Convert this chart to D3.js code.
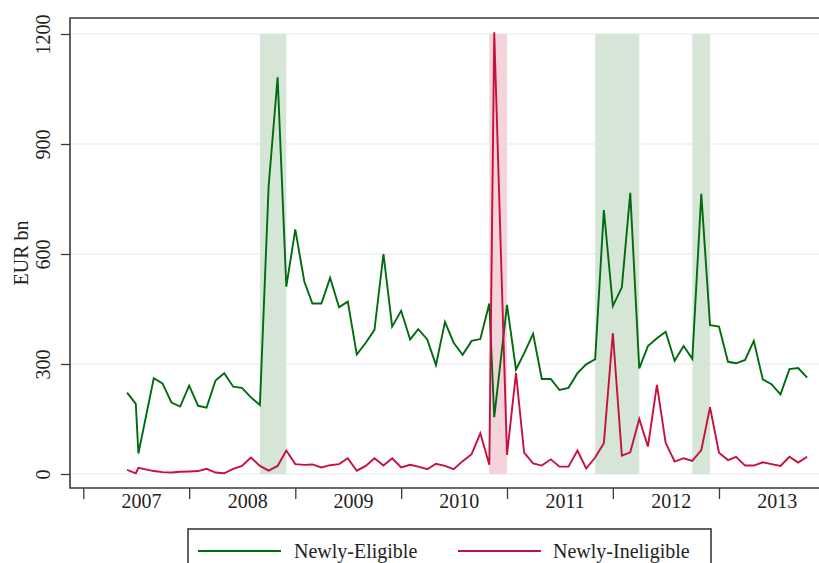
<!DOCTYPE html>
<html>
<head>
<meta charset="utf-8">
<script src="https://cdn.jsdelivr.net/npm/d3@7"></script>
<style>
  body { margin: 0; background: #fff; }
  svg { display: block; font-family: 'Liberation Serif', 'DejaVu Serif', serif; }
</style>
</head>
<body>
<svg id="chart" width="819" height="563"></svg>
<script>
// monthly observations (two extra mid-month readings)
const dates = [
  '2007-06-01', '2007-07-01', '2007-07-10', '2007-09-01', '2007-10-01', '2007-11-01', '2007-12-01',
  '2008-01-01', '2008-02-01', '2008-03-01', '2008-04-01', '2008-05-01', '2008-06-01',
  '2008-07-01', '2008-08-01', '2008-09-01', '2008-10-01', '2008-11-01', '2008-12-01',
  '2009-01-01', '2009-02-01', '2009-03-01', '2009-04-01', '2009-05-01', '2009-06-01',
  '2009-07-01', '2009-08-01', '2009-09-01', '2009-10-01', '2009-11-01', '2009-12-01',
  '2010-01-01', '2010-02-01', '2010-03-01', '2010-04-01', '2010-05-01', '2010-06-01',
  '2010-07-01', '2010-08-01', '2010-09-01', '2010-10-01', '2010-11-01', '2010-11-18',
  '2011-01-01', '2011-02-01', '2011-03-01', '2011-04-01', '2011-05-01', '2011-06-01',
  '2011-07-01', '2011-08-01', '2011-09-01', '2011-10-01', '2011-11-01', '2011-12-01',
  '2012-01-01', '2012-02-01', '2012-03-01', '2012-04-01', '2012-05-01', '2012-06-01',
  '2012-07-01', '2012-08-01', '2012-09-01', '2012-10-01', '2012-11-01', '2012-12-01',
  '2013-01-01', '2013-02-01', '2013-03-01', '2013-04-01', '2013-05-01', '2013-06-01',
  '2013-07-01', '2013-08-01', '2013-09-01', '2013-10-01', '2013-11-01'
]

const newlyEligible = [
  222, 191, 56, 261, 247, 195, 184,
  241, 186, 181, 255, 275, 238,
  235, 209, 188, 784, 1082, 511,
  667, 525, 465, 465, 535, 455,
  470, 326, 358, 393, 600, 402,
  445, 367, 395, 367, 297, 415,
  358, 325, 363, 368, 465, 155,
  461, 285, 329, 382, 259, 259,
  229, 235, 275, 299, 313, 720,
  458, 509, 767, 288, 349, 370,
  388, 309, 349, 314, 764, 406,
  402, 306, 302, 311, 363, 258,
  245, 217, 286, 289, 263
]

const newlyIneligible = [
  11, 2, 17, 8, 5, 4, 6,
  7, 8, 14, 4, 2, 14,
  22, 45, 22, 9, 22, 64,
  27, 25, 26, 18, 24, 27,
  43, 9, 22, 43, 23, 43,
  18, 25, 20, 13, 28, 22,
  13, 35, 54, 111, 25, 1205,
  52, 275, 58, 29, 23, 40,
  20, 20, 64, 15, 45, 84,
  384, 50, 59, 150, 75, 243,
  85, 34, 43, 36, 65, 182,
  58, 38, 47, 23, 23, 32,
  27, 22, 47, 31, 47
]

// shaded episodes: [start, end, kind]
const bands = [
  ['2008-09-01', '2008-12-01', 'elig'],
  ['2010-11-01', '2011-01-01', 'inelig'],
  ['2011-11-01', '2012-04-01', 'elig'],
  ['2012-10-01', '2012-12-01', 'elig']
]

const yTicks = [0, 300, 600, 900, 1200]
const years = [2007, 2008, 2009, 2010, 2011, 2012, 2013]

const parse = d3.timeParse('%Y-%m-%d')
const green = '#006b0f'
const red = '#c8103e'

const svg = d3.select('#chart')
const plotL = 70, plotT = 18, plotB = 488, plotR = 819

const x = d3.scaleTime()
  .domain([new Date(2007, 0, 1), new Date(2013, 0, 1)])
  .range([83.3, 719])

const y = d3.scaleLinear().domain([0, 1200]).range([474, 34])

// grid
svg.append('g')
  .selectAll('line')
  .data(yTicks)
  .join('line')
  .attr('x1', plotL)
  .attr('x2', plotR)
  .attr('y1', d => y(d))
  .attr('y2', d => y(d))
  .attr('stroke', '#eaf1f4')
  .attr('stroke-width', 1.6)

// shaded bands
svg.append('g')
  .selectAll('rect')
  .data(bands)
  .join('rect')
  .attr('x', d => x(parse(d[0])))
  .attr('width', d => x(parse(d[1])) - x(parse(d[0])))
  .attr('y', y(1200))
  .attr('height', y(0) - y(1200))
  .attr('fill', d => (d[2] === 'elig' ? '#d5e5d6' : '#f5d3da'))

// series
const series = [
  { name: 'Newly-Eligible', values: newlyEligible, color: green },
  { name: 'Newly-Ineligible', values: newlyIneligible, color: red }
]

const line = d3.line()
  .x(d => x(d.date))
  .y(d => y(d.value))

series.forEach(s => {
  const pts = dates.map((d, i) => ({ date: parse(d), value: s.values[i] }))
  svg.append('path')
    .datum(pts)
    .attr('d', line)
    .attr('fill', 'none')
    .attr('stroke', s.color)
    .attr('stroke-width', 1.9)
    .attr('stroke-linejoin', 'miter')
})

// frame
svg.append('path')
  .attr('d', `M${plotR},${plotT}H${plotL}V${plotB}H${plotR}`)
  .attr('fill', 'none')
  .attr('stroke', '#3a3a3a')
  .attr('stroke-width', 1.6)

// y axis
const yAxis = d3.axisLeft(y).tickValues(yTicks).tickSize(9).tickFormat(d3.format('d'))
const yg = svg.append('g')
  .attr('transform', `translate(${plotL},0)`)
  .call(yAxis)
yg.select('.domain').remove()
yg.selectAll('.tick line').attr('stroke', '#3a3a3a').attr('stroke-width', 1.3)
yg.selectAll('.tick text')
  .attr('transform', 'rotate(-90)')
  .attr('x', 0)
  .attr('y', -20)
  .attr('dy', 0)
  .attr('text-anchor', 'middle')
  .attr('fill', '#222')
  .style('font-size', '20px')
  .style('font-family', "'Liberation Serif', serif")

svg.append('text')
  .attr('transform', 'translate(28,253) rotate(-90)')
  .attr('text-anchor', 'middle')
  .attr('fill', '#222')
  .style('font-size', '20px')
  .text('EUR bn')

// x axis: ticks at year starts, labels mid-year
const xg = svg.append('g')
  .attr('transform', `translate(0,${plotB})`)
  .call(d3.axisBottom(x)
    .tickValues(years.map(yr => new Date(yr, 0, 1)))
    .tickSize(11)
    .tickFormat(''))
xg.select('.domain').remove()
xg.selectAll('.tick line').attr('stroke', '#3a3a3a').attr('stroke-width', 1.3)

const xl = svg.append('g')
  .attr('transform', `translate(0,${plotB})`)
  .call(d3.axisBottom(x)
    .tickValues(years.map(yr => new Date(yr, 6, 19)))
    .tickSize(0)
    .tickPadding(6)
    .tickFormat(d3.timeFormat('%Y')))
xl.select('.domain').remove()
xl.selectAll('.tick text')
  .attr('fill', '#222')
  .style('font-size', '20px')
  .style('font-family', "'Liberation Serif', serif")

// legend
const lg = svg.append('g')
lg.append('rect')
  .attr('x', 188)
  .attr('y', 529)
  .attr('width', 523)
  .attr('height', 60)
  .attr('fill', '#fff')
  .attr('stroke', '#3a3a3a')
  .attr('stroke-width', 1.6)

const legendPos = [{ lx: 198, tx: 294 }, { lx: 458, tx: 553 }]
series.forEach((s, i) => {
  const p = legendPos[i]
  lg.append('line')
    .attr('x1', p.lx)
    .attr('x2', p.lx + 83)
    .attr('y1', 551)
    .attr('y2', 551)
    .attr('stroke', s.color)
    .attr('stroke-width', 1.9)
  lg.append('text')
    .attr('x', p.tx)
    .attr('y', 558)
    .attr('fill', '#222')
    .style('font-size', '20px')
    .text(s.name)
})
</script>
</body>
</html>
